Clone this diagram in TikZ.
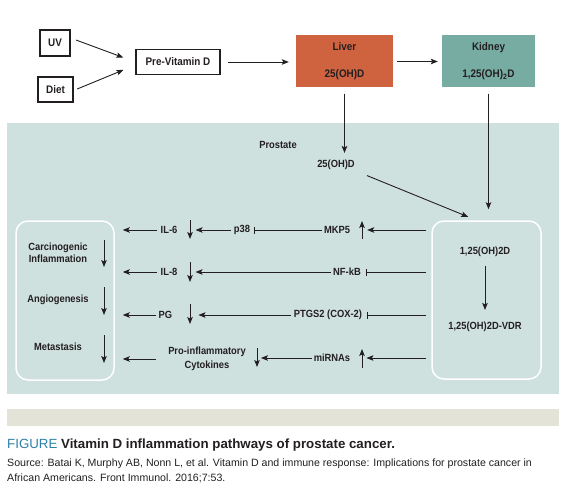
\documentclass[tikz,border=0pt]{standalone}
\usepackage{fontspec}
\setmainfont{Liberation Sans}[FakeStretch=0.9]
\newfontfamily\capfont{Liberation Sans}
\usepackage{tikz}
\usepackage{xcolor}
\usetikzlibrary{arrows.meta, positioning, calc}
\definecolor{liverfill}{HTML}{CF6340}
\definecolor{kidneyfill}{HTML}{77ACA3}
\definecolor{panelfill}{HTML}{CFE1DF}
\definecolor{barfill}{HTML}{E4E3D8}
\definecolor{figblue}{HTML}{2B7FA8}
\definecolor{ink}{HTML}{231F20}
\tikzset{
	srcbox/.style={rectangle, draw=ink, line width=1.1pt, inner sep=0pt,
		font=\bfseries\fontsize{11}{13}\selectfont, text=ink},
	organ/.style={rectangle, inner sep=0pt, minimum width=97pt, minimum height=52pt,
		align=center, font=\bfseries\fontsize{11}{13}\selectfont, text=ink},
	lbl/.style={inner sep=1pt, align=center, font=\bfseries\fontsize{10.4}{12}\selectfont, text=ink},
	cellbox/.style={rectangle, rounded corners=12pt, draw=white, line width=1.5pt, inner sep=0pt},
	arrow/.style={-{Stealth[length=7pt, width=5.5pt, inset=1.5pt]}, line width=0.9pt, draw=ink},
	blockline/.style={-{Bar[width=7pt]}, line width=0.9pt, draw=ink},
	% caption styles
	captext/.style={inner sep=0pt, text=ink, font=\capfont\fontsize{13.3}{15}\selectfont},
	srctext/.style={inner sep=0pt, text=ink, align=left, font=\capfont\fontsize{10.6}{15}\selectfont},
}
\begin{document}
\begin{tikzpicture}[x=1pt,y=-1pt]
	\useasboundingbox(0,0)rectangle(567,500);
	\fill[panelfill](7,123)rectangle(559,394);
	\fill[barfill](7,409)rectangle(559,426);
	% synthesis
	\node[srcbox,minimum width=30pt,minimum height=26pt](uv)at(55,43){UV};
	\node[srcbox,minimum width=35pt,minimum height=25pt](diet)at(55.5,89.5){Diet};
	\node[srcbox,minimum width=84pt,minimum height=25pt](previt)at(178,62){Pre-Vitamin D};
	\node[organ,fill=liverfill](liver)at(344.5,61.5){Liver\\[14pt]25(OH)D};
	\node[organ,fill=kidneyfill,minimum width=93pt](kidney)at(488.5,61.5){Kidney\\[14pt]1,25(OH)\textsubscript{2}D};
	\draw[arrow,shorten <=6pt,shorten >=13pt]([yshift=5pt]uv.east)--(previt.west);
	\draw[arrow,shorten <=4pt,shorten >=13pt]([yshift=-1pt]diet.east)--([yshift=-3pt]previt.west);
	\draw[arrow,shorten <=7pt,shorten >=7pt](previt.east)--(previt.east-|liver.west);
	\draw[arrow,shorten <=4pt,shorten >=4pt](liver)--(kidney);
	% prostate cell
	\node[lbl](prostate)at(278,145){Prostate};
	\node[lbl](ohd)at(336,165){25(OH)D};
	\node[cellbox,minimum width=109pt,minimum height=158pt](rbox)at(486.5,300){};
	\node[cellbox,minimum width=98pt,minimum height=159pt](lbox)at(65,300.5){};
	\node[lbl](cal)at(485,252){1,25(OH)2D};
	\node[lbl](vdr)at(485,327){1,25(OH)2D-VDR};
	\draw[arrow,shorten <=6pt,shorten >=6pt](liver.south)--(liver.south|-ohd.north);
	\draw[arrow,shorten <=6pt,shorten >=11pt](kidney.south)--(kidney.south|-rbox.north);
	\draw[arrow,shorten <=12pt,shorten >=9pt](ohd.south east)--([xshift=-10pt]rbox.north);
	\draw[arrow,shorten <=8pt,shorten >=11pt](cal)--(vdr);
	% outcomes
	\node[lbl](carc)at(58,253){Carcinogenic\\Inflammation};
	\node[lbl](angio)at(58,300){Angiogenesis};
	\node[lbl](meta)at(58,347){Metastasis};
	\draw[arrow](104,240)--(104,267);\draw[arrow](104,287)--(104,315);
	\draw[arrow](104,335)--(104,363);
	% mediators
	\node[lbl](il6)at(169,230){IL-6};
	\node[lbl](il8)at(169,272){IL-8};
	\node[lbl](pg)at(165.5,315){PG};
	\node[lbl](proinf)at(207,359){Pro-inflammatory\\[2pt]Cytokines};
	\node[lbl](p38)at(242,230){p38};
	\node[lbl](mkp5)at(337,230){MKP5};
	\node[lbl](nfkb)at(347,272){NF-kB};
	\node[lbl](ptgs)at(328,315){PTGS2 (COX-2)};
	\node[lbl](mirna)at(332,358){miRNAs};
	\draw[arrow](190,220)--(190,239);\draw[arrow](190,262)--(190,282);
	\draw[arrow](190,304)--(190,324);\draw[arrow](257,348)--(257,367);
	\draw[arrow](362,239)--(362,221);\draw[arrow](362,368)--(362,349);
	% pathways
	\draw[arrow,shorten <=2pt,shorten >=8pt](il6.west)--(il6.west-|lbox.east);
	\draw[arrow,shorten <=2pt,shorten >=17pt](p38.west)--(il6.east);
	\draw[blockline,shorten <=1pt,shorten >=3pt](mkp5.west)--(p38.east);
	\draw[arrow,shorten <=5pt,shorten >=16pt](rbox.west|-mkp5)--(mkp5.east);
	\draw[arrow,shorten <=2pt,shorten >=8pt](il8.west)--(il8.west-|lbox.east);
	\draw[arrow,shorten <=1pt,shorten >=17pt](nfkb.west)--(il8.east);
	\draw[blockline,shorten <=5pt,shorten >=4pt](rbox.west|-nfkb)--(nfkb.east);
	\draw[arrow,shorten <=2pt,shorten >=8pt](pg.west)--(pg.west-|lbox.east);
	\draw[arrow,shorten <=2pt,shorten >=25pt](ptgs.west)--(pg.east);
	\draw[blockline,shorten <=5pt,shorten >=4pt](rbox.west|-ptgs)--(ptgs.east);
	\draw[arrow,shorten <=11pt,shorten >=8pt](proinf.west)--(proinf.west-|lbox.east);
	\draw[arrow,shorten <=1pt,shorten >=14pt](mirna.west)--(mirna.west-|proinf.east);
	\draw[arrow,shorten <=5pt,shorten >=15pt](rbox.west|-mirna)--(mirna.east);
	% caption
	\node[captext,anchor=west](caption)at(7,445){\textcolor{figblue}{FIGURE} \textbf{Vitamin D inflammation pathways of prostate cancer.}};
	\node[srctext,anchor=north west](source)at(7,459){Source: Batai K, Murphy AB, Nonn L, et al. Vitamin D and immune response: Implications for prostate cancer in\\African Americans. Front Immunol. 2016;7:53.};
\end{tikzpicture}
\end{document}
